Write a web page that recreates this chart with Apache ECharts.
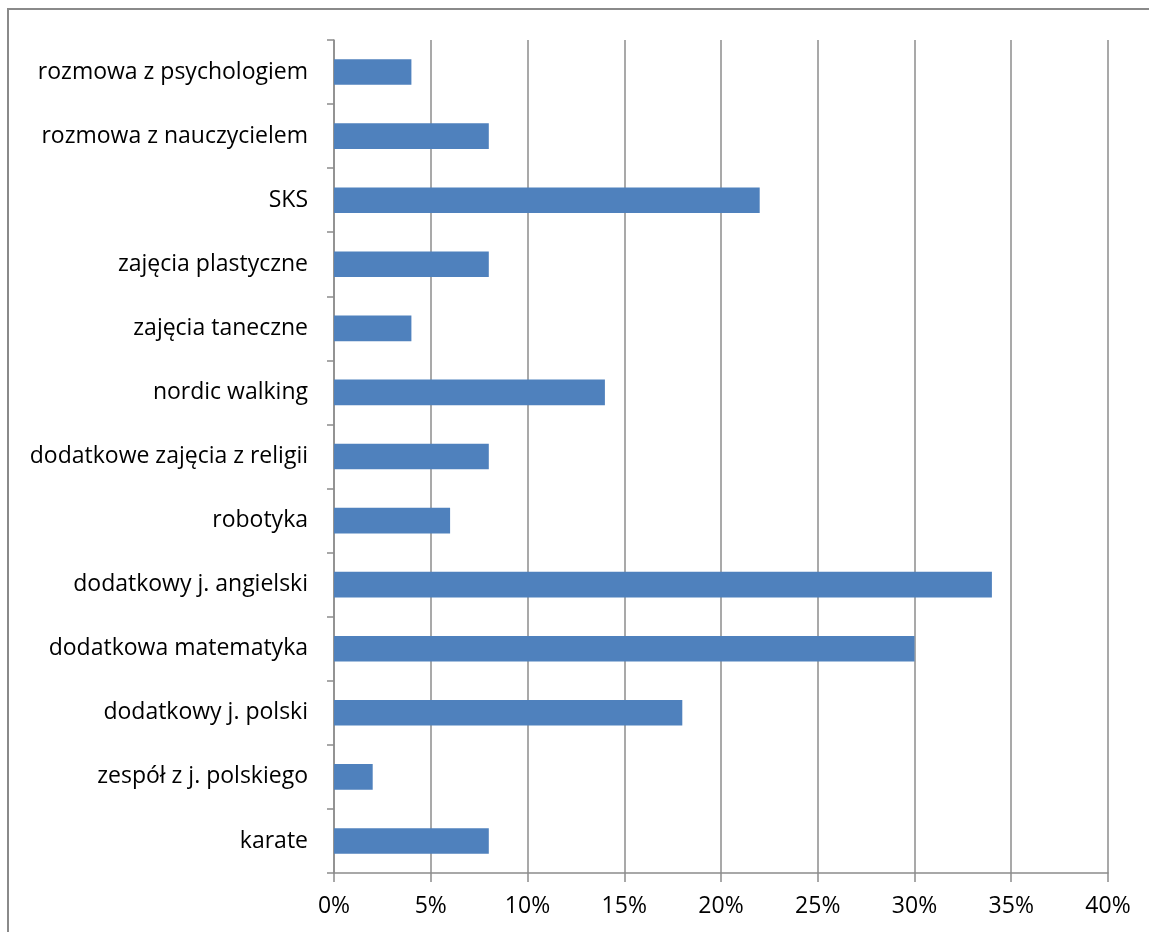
<!DOCTYPE html>
<html><head><meta charset="utf-8">
<script src="https://cdn.jsdelivr.net/npm/echarts@6/dist/echarts.min.js"></script>
<style>html,body{margin:0;padding:0;background:#fff}#c{width:1149px;height:932px}</style>
</head><body><div id="c"></div>
<script>
const categories = ["rozmowa z psychologiem","rozmowa z nauczycielem","SKS","zajęcia plastyczne","zajęcia taneczne","nordic walking","dodatkowe zajęcia z religii","robotyka","dodatkowy j. angielski","dodatkowa matematyka","dodatkowy j. polski","zespół z j. polskiego","karate"];
const values = [0.04,0.08,0.22,0.08,0.04,0.14,0.08,0.06,0.34,0.30,0.18,0.02,0.08];
const tickLabels = ["0%","5%","10%","15%","20%","25%","30%","35%","40%"];

const chart = echarts.init(document.getElementById('c'), null, {renderer:'canvas'});
const font = "'Open Sans', 'Noto Sans', sans-serif";
chart.setOption({
  animation:false,
  backgroundColor:'#fff',
  graphic:[{type:'rect',shape:{x:8,y:9,width:1200,height:1000},style:{fill:'none',stroke:'#8a8a8a',lineWidth:2},z:-1}],
  grid:{left:334,right:41,top:40,bottom:59,containLabel:false},
  xAxis:{type:'value',min:0,max:0.4,interval:0.05,
    axisLine:{show:true,lineStyle:{color:'#8c8c8c',width:1.5}},
    axisTick:{show:true,length:9,lineStyle:{color:'#8c8c8c',width:1.5}},
    splitLine:{show:true,lineStyle:{color:'#8c8c8c',width:1.5}},
    axisLabel:{margin:22,color:'#000',fontSize:23,fontFamily:font,
      formatter:function(v){return tickLabels[Math.round(v/0.05)];}}},
  yAxis:{type:'category',data:categories,inverse:true,
    axisLine:{show:true,lineStyle:{color:'#8c8c8c',width:1.5}},
    axisTick:{show:true,length:7,lineStyle:{color:'#8c8c8c',width:1.5}},
    axisLabel:{margin:26,color:'#000',fontSize:23,fontFamily:font},
    splitLine:{show:false}},
  series:[{type:'bar',data:values,barWidth:'40%',itemStyle:{color:'#4F81BD'}}]
});
</script></body></html>
